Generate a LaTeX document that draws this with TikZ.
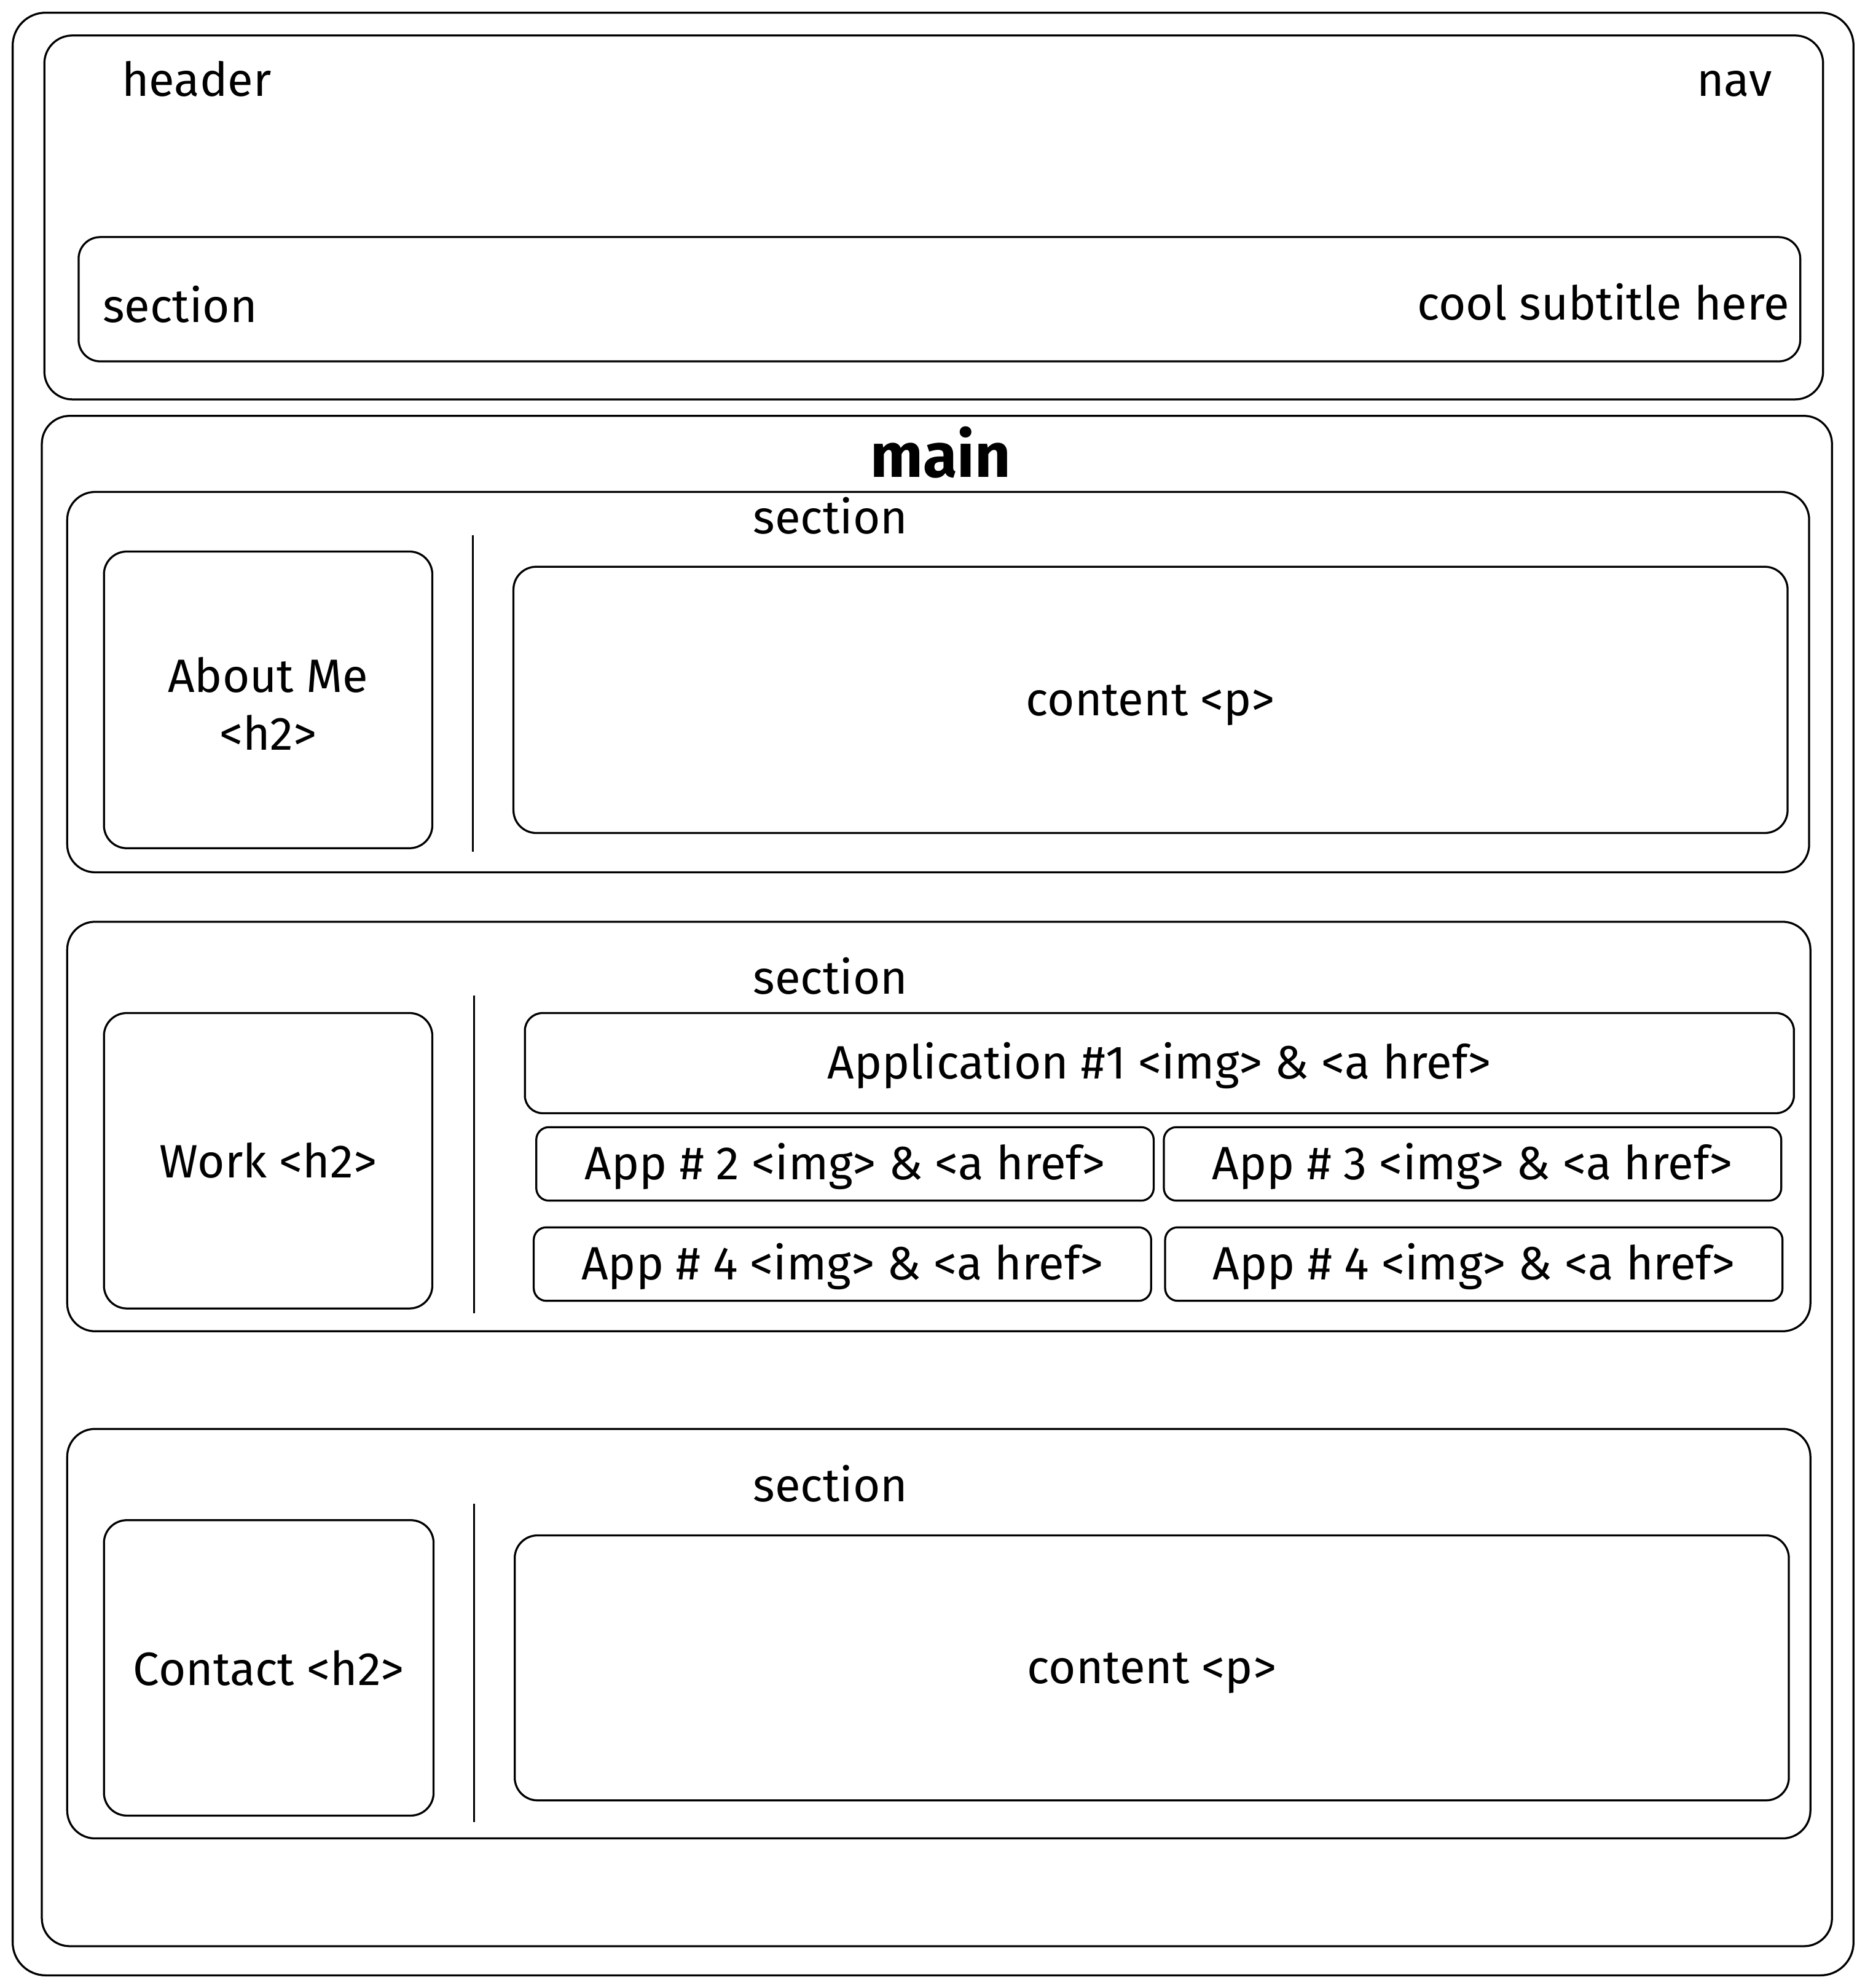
\documentclass[tikz,border=0pt]{standalone}
\usepackage{fontspec}
\setmainfont{Fira Sans}
\usetikzlibrary{positioning, fit, calc}
\tikzset{
    wbox/.style={draw, line width=0.45pt, rounded corners=#1, inner sep=0pt},
    wbox/.default={2.2mm},
    wtext/.style={inner sep=0pt, font=\fontsize{10.5}{13}\selectfont, align=center},
    wline/.style={line width=0.45pt}
}
\begin{document}
\begin{tikzpicture}[x=0.1mm, y=-0.1mm]
    \useasboundingbox (0,0) rectangle (1471,1568);
    % page frame
    \node[wbox=2.6mm, fit={(10,10) (1462,1558)}] (page) {};
    % header
    \node[wbox, fit={(35,28) (1438,315)}] (header) {};
    \node[wtext] (headerlbl) at (155,62) {header};
    \node[wtext] (navlbl) at (1368,66) {nav};
    \node[wbox=1.7mm, fit={(62,187) (1420,285)}] (hsec) {};
    \node[wtext] (hseclbl) at (142,240) {section};
    \node[wtext, anchor=east] (subtitle) at (1412,238) {cool subtitle here};
    % main
    \node[wbox, fit={(33,328) (1445,1535)}] (main) {};
    \node[wtext, font=\fontsize{14}{16}\selectfont\bfseries] (mainlbl) at (742,357) {main};

    % section 1
    \node[wbox, fit={(53,388) (1427,688)}] (sec1) {};
    \node[wtext] (sec1lbl) at (655,407) {section};
    \node[wbox=1.8mm, fit={(82,435) (341,669)}] (about) {};
    \node[wtext] (aboutlbl) at ($(about)+(0,3)$) {About Me\\<h2>};
    \coordinate (s1top) at (373,422);
    \coordinate (s1bot) at (373,672);
    \draw[wline] (s1top) -- (s1bot);
    \node[wbox=1.8mm, fit={(405,447) (1410,657)}] (content1) {};
    \node[wtext] (content1lbl) at ($(content1)+(0,4)$) {content <p>};

    % section 2
    \node[wbox, fit={(53,727) (1428,1050)}] (sec2) {};
    \node[wtext] (sec2lbl) at (655,770) {section};
    \node[wbox=1.8mm, fit={(82,799) (341,1032)}] (work) {};
    \node[wtext] (worklbl) at (work) {Work <h2>};
    \coordinate (s2top) at (374,785);
    \coordinate (s2bot) at (374,1036);
    \draw[wline] (s2top) -- (s2bot);
    \node[wbox=1.4mm, fit={(414,799) (1415,878)}] (app1) {};
    \node[wtext] (app1lbl) at ($(app1)+(0,2)$) {Application \#1 <img> \& <a href>};
    \node[wbox=1mm, fit={(423,889) (910,947)}] (app2) {};
    \node[wtext] (app2lbl) at ($(app2)+(0,2)$) {App \# 2 <img> \& <a href>};
    \node[wbox=1mm, fit={(918,889) (1405,947)}] (app3) {};
    \node[wtext] (app3lbl) at ($(app3)+(0,2)$) {App \# 3 <img> \& <a href>};
    \node[wbox=1mm, fit={(421,968) (908,1026)}] (app4a) {};
    \node[wtext] (app4albl) at ($(app4a)+(0,2)$) {App \# 4 <img> \& <a href>};
    \node[wbox=1mm, fit={(919,968) (1406,1026)}] (app4b) {};
    \node[wtext] (app4blbl) at ($(app4b)+(0,2)$) {App \# 4 <img> \& <a href>};

    % section 3
    \node[wbox, fit={(53,1127) (1428,1450)}] (sec3) {};
    \node[wtext] (sec3lbl) at (655,1170) {section};
    \node[wbox=1.8mm, fit={(82,1199) (342,1432)}] (contact) {};
    \node[wtext] (contactlbl) at (contact) {Contact <h2>};
    \coordinate (s3top) at (374,1186);
    \coordinate (s3bot) at (374,1437);
    \draw[wline] (s3top) -- (s3bot);
    \node[wbox=1.8mm, fit={(406,1211) (1411,1420)}] (content3) {};
    \node[wtext] (content3lbl) at ($(content3)+(0,4)$) {content <p>};
\end{tikzpicture}
\end{document}
